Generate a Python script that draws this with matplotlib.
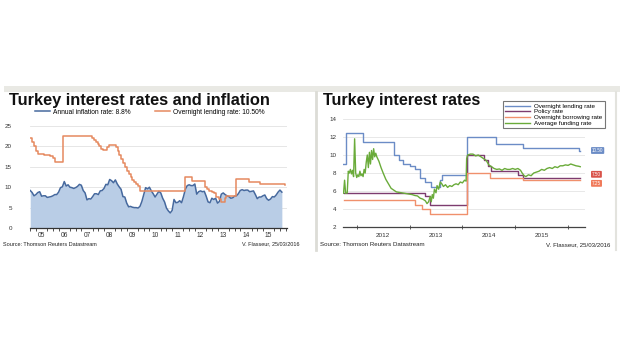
import numpy as np
import pandas as pd
import matplotlib
matplotlib.use("Agg")
import matplotlib.pyplot as plt
from matplotlib.lines import Line2D
from matplotlib.patches import Rectangle

plt.rcParams['font.family'] = ['Liberation Sans', 'DejaVu Sans']

# ---- data: annual inflation, monthly Jan 2005 - Feb 2016 ----
inflation = [
    9.2, 8.7, 7.9, 8.2, 8.7, 8.9, 7.8, 7.9, 7.9, 7.5, 7.6, 7.7,
    7.9, 8.2, 8.2, 8.8, 9.9, 10.1, 11.4, 10.3, 10.6, 10.0, 9.9, 9.7,
    9.9, 10.2, 10.7, 10.5, 9.2, 8.6, 6.9, 7.2, 7.1, 7.7, 8.4, 8.4,
    8.2, 9.1, 9.2, 9.7, 10.7, 10.6, 11.9, 11.6, 11.1, 11.8, 10.8, 10.1,
    9.5, 7.7, 7.6, 6.1, 5.2, 5.3, 5.1, 5.0, 5.0, 4.9, 5.3, 6.5,
    8.2, 9.9, 9.6, 10.0, 9.1, 8.4, 7.6, 8.3, 9.0, 8.6, 7.3, 6.4,
    4.9, 4.2, 3.7, 4.3, 7.0, 6.2, 6.3, 6.7, 6.2, 7.7, 9.5, 10.4,
    10.6, 10.4, 10.4, 10.8, 8.3, 8.9, 9.1, 8.9, 9.0, 7.8, 6.4, 6.2,
    7.3, 7.0, 7.3, 6.1, 6.5, 8.3, 8.6, 8.2, 7.9, 7.7, 7.3, 7.4,
    7.8, 7.9, 8.4, 9.2, 9.4, 9.2, 9.3, 9.3, 8.9, 9.0, 9.1, 8.2,
    7.2, 7.6, 7.6, 7.9, 8.1, 7.2, 6.8, 7.1, 7.7, 7.6, 8.1, 8.8,
    9.3, 8.8,
]
months = pd.date_range("2005-01-01", periods=len(inflation), freq="MS")
infl_x = np.array([d.year + (d.month - 1) / 12 for d in months])

# overnight lending rate (step changes, decimal year)
lend_t = [2005.00, 2005.08, 2005.17, 2005.25, 2005.33, 2005.6, 2005.85, 2006.0, 2006.08,
          2006.45, 2007.72, 2007.8, 2007.88, 2007.97, 2008.05, 2008.12, 2008.2,
          2008.38, 2008.45, 2008.78, 2008.88, 2008.93, 2009.0, 2009.08, 2009.17,
          2009.25, 2009.33, 2009.42, 2009.5, 2009.58, 2009.67, 2009.75, 2009.85,
          2011.8, 2012.12, 2012.7, 2012.8, 2012.88, 2013.0, 2013.1, 2013.2,
          2013.3, 2013.4, 2013.57, 2013.62, 2014.08, 2014.64, 2015.14, 2016.2, 2016.23]
lend_v = [22.0, 21.0, 20.0, 19.0, 18.25, 18.0, 17.75, 17.25, 16.25,
          22.5, 22.0, 21.5, 21.0, 20.5, 20.0, 19.5, 19.25,
          19.75, 20.25, 19.75, 19.0, 18.0, 17.0, 16.0, 15.0,
          14.0, 13.25, 12.5, 11.75, 11.25, 10.75, 10.25, 9.0,
          12.5, 11.5, 10.0, 9.5, 9.0, 8.75, 8.5, 7.5,
          7.0, 6.5, 7.25, 7.75, 12.0, 11.25, 10.75, 10.5, 10.5]

# policy rate (one-week repo)
policy_t = [2011.75, 2013.3, 2013.38, 2014.08, 2014.4, 2014.48, 2014.55, 2015.05, 2015.14, 2016.23]
policy_v = [5.75, 5.5, 4.5, 10.0, 9.5, 8.75, 8.25, 7.75, 7.5, 7.5]

# overnight borrowing rate
borrow_t = [2011.75, 2013.1, 2013.23, 2013.39, 2014.08, 2014.52, 2015.14, 2016.23]
borrow_v = [5.0, 4.5, 4.0, 3.5, 8.0, 7.5, 7.25, 7.25]

# average funding rate
fund_t = [2011.75, 2011.77, 2011.79, 2011.82, 2011.84, 2011.86, 2011.88, 2011.9, 2011.92,
          2011.94, 2011.96, 2011.98, 2012.0, 2012.02, 2012.04, 2012.06, 2012.08, 2012.1,
          2012.12, 2012.14, 2012.16, 2012.18, 2012.2, 2012.22, 2012.24, 2012.26, 2012.28,
          2012.3, 2012.32, 2012.34, 2012.36, 2012.38, 2012.42, 2012.46, 2012.5, 2012.55,
          2012.6, 2012.65, 2012.7, 2012.75, 2012.8, 2012.85, 2012.9, 2012.95, 2013.0,
          2013.05, 2013.1, 2013.15, 2013.2, 2013.25, 2013.3, 2013.33, 2013.36, 2013.39,
          2013.41, 2013.43, 2013.45, 2013.47, 2013.5, 2013.52, 2013.55, 2013.58, 2013.61,
          2013.64, 2013.68, 2013.72, 2013.76, 2013.8, 2013.84, 2013.88, 2013.92, 2013.96,
          2014.0, 2014.04, 2014.07, 2014.08, 2014.1, 2014.15, 2014.2, 2014.25, 2014.3,
          2014.35, 2014.4, 2014.45, 2014.5, 2014.55, 2014.6, 2014.65, 2014.7, 2014.75,
          2014.8, 2014.85, 2014.9, 2014.95, 2015.0, 2015.05, 2015.1, 2015.13, 2015.17,
          2015.2, 2015.25, 2015.3, 2015.35, 2015.4, 2015.45, 2015.5, 2015.55, 2015.6,
          2015.65, 2015.7, 2015.75, 2015.8, 2015.85, 2015.9, 2015.95, 2016.0, 2016.05,
          2016.1, 2016.15, 2016.2, 2016.23]
fund_v = [5.75, 7.2, 5.75, 5.8, 8.2, 8.0, 8.4, 7.9, 8.3,
          7.6, 11.8, 8.0, 7.5, 7.8, 7.6, 8.2, 7.7, 7.9,
          7.6, 8.4, 8.0, 9.2, 10.0, 8.6, 10.3, 9.0, 10.5,
          9.5, 10.7, 9.8, 10.2, 9.8, 9.3, 8.6, 8.0, 7.3,
          6.8, 6.3, 6.1, 5.9, 5.85, 5.8, 5.75, 5.7, 5.65,
          5.6, 5.5, 5.45, 5.2, 5.1, 4.9, 4.6, 4.8, 5.4,
          4.8, 5.6, 5.2, 6.2, 5.8, 6.6, 6.2, 7.0, 6.8,
          6.5, 6.7, 6.4, 6.6, 6.5, 6.7, 6.8, 6.7, 7.0,
          6.9, 7.2, 7.1, 9.6, 10.0, 10.1, 10.1, 9.9, 10.0,
          9.8, 9.6, 9.4, 8.9, 8.7, 8.5, 8.4, 8.45, 8.3,
          8.5, 8.4, 8.4, 8.5, 8.4, 8.5, 8.3, 8.0, 7.7,
          7.6, 7.8, 7.7, 8.0, 8.1, 8.2, 8.4, 8.3, 8.5,
          8.6, 8.5, 8.7, 8.6, 8.8, 8.8, 8.9, 8.85, 9.0,
          8.9, 8.8, 8.75, 8.7]

left_years = ["05", "06", "07", "08", "09", "10", "11", "12", "13", "14", "15"]
right_years = ["2012", "2013", "2014", "2015"]

# colours
c_fill = "#b9cde6"
c_infl = "#46699e"
c_lend_l = "#e5895f"
c_blue = "#6b8cc6"
c_policy = "#7d3c6f"
c_borrow = "#f0906c"
c_green = "#6aab3a"

W, H = 620, 354
fig = plt.figure(figsize=(W / 100, H / 100), dpi=100)
fig.patch.set_facecolor("white")

# panel decoration: top band and dividers
fig.patches.append(Rectangle((4 / W, 1 - 92 / H), 616 / W, 6 / H, transform=fig.transFigure,
                             facecolor="#e9e9e4", edgecolor="none"))
fig.lines.append(Line2D([316 / W, 316 / W], [1 - 92 / H, 1 - 250 / H], transform=fig.transFigure,
                        color="#dcdcd6", lw=2))
fig.lines.append(Line2D([616 / W, 616 / W], [1 - 92 / H, 1 - 250 / H], transform=fig.transFigure,
                        color="#e3e3de", lw=1.5))

# ---------------- left chart ----------------
ax1 = fig.add_axes([30 / W, 1 - 228 / H, 257 / W, 106 / H])
ax1.fill_between(infl_x, inflation, 0, color=c_fill, lw=0)
ax1.plot(infl_x, inflation, color=c_infl, lw=1.1, label="Annual inflation rate: 8.8%")
ax1.step(lend_t, lend_v, where="post", color=c_lend_l, lw=1.1, label="Overnight lending rate: 10.50%")
ax1.set_xlim(2004.99, 2016.31)
ax1.set_ylim(0, 26)
ax1.set_yticks([0, 5, 10, 15, 20, 25])
ax1.yaxis.grid(True, color="#e2e2e2", lw=0.6)
ax1.set_axisbelow(True)
for s in ["top", "right", "left"]:
    ax1.spines[s].set_visible(False)
ax1.spines["bottom"].set_color("#333333")
ax1.spines["bottom"].set_linewidth(0.9)
ax1.tick_params(axis="y", length=0, labelsize=4.5, pad=13, colors="#333333")
ax1.set_xticks([2005.5 + i for i in range(len(left_years))])
ax1.set_xticklabels(left_years)
ax1.set_xticks(np.arange(2005, 2016.3, 0.25), minor=True)
ax1.tick_params(axis="x", which="major", length=0, labelsize=4.8, pad=3, colors="#333333")
ax1.tick_params(axis="x", which="minor", length=2, width=0.6, direction="out", color="#333333")
ax1.legend(loc="center left", bbox_to_anchor=(32 / W, 1 - 112 / H), bbox_transform=fig.transFigure,
           ncol=2, frameon=False, fontsize=4.8, handlelength=2.2, handletextpad=0.5,
           columnspacing=3.6, borderpad=0)

fig.text(9 / W, 1 - 100 / H, "Turkey interest rates and inflation", fontsize=11.8,
         fontweight="bold", va="center", ha="left", color="#111111")
fig.text(3 / W, 1 - 244 / H, "Source: Thomson Reuters Datastream", fontsize=4, va="center", color="#222222")
fig.text(300 / W, 1 - 244 / H, "V. Flasseur, 25/03/2016", fontsize=4, va="center", ha="right", color="#222222")

# ---------------- right chart ----------------
ax2 = fig.add_axes([343 / W, 1 - 227 / H, 242 / W, 112.5 / H])
ax2.step(lend_t, lend_v, where="post", color=c_blue, lw=1.0, label="Overnight lending rate")
ax2.step(policy_t, policy_v, where="post", color=c_policy, lw=1.0, label="Policy rate")
ax2.step(borrow_t, borrow_v, where="post", color=c_borrow, lw=1.0, label="Overnight borrowing rate")
ax2.plot(fund_t, fund_v, color=c_green, lw=1.0, label="Average funding rate")
ax2.set_xlim(2011.74, 2016.32)
ax2.set_ylim(2, 14.5)
ax2.set_yticks([2, 4, 6, 8, 10, 12, 14])
ax2.yaxis.grid(True, color="#e4e4e4", lw=0.6)
ax2.set_axisbelow(True)
for s in ["top", "right", "left"]:
    ax2.spines[s].set_visible(False)
ax2.spines["bottom"].set_color("#444444")
ax2.spines["bottom"].set_linewidth(0.9)
ax2.tick_params(axis="y", length=0, labelsize=4.5, pad=5, colors="#333333")
ax2.set_xticks([2012.5 + i for i in range(len(right_years))])
ax2.set_xticklabels(right_years)
ax2.set_xticks(np.arange(2012, 2016.1, 1), minor=True)
ax2.tick_params(axis="x", which="major", length=0, labelsize=4.6, pad=4, colors="#333333")
ax2.tick_params(axis="x", which="minor", length=3, width=0.6, direction="inout", color="#444444")
leg = ax2.legend(loc="upper left", bbox_to_anchor=(500 / W, 1 - 98 / H), bbox_transform=fig.transFigure,
                 fontsize=4.5, frameon=True, fancybox=False, edgecolor="#555555",
                 handlelength=4, handletextpad=0.6, labelspacing=0.05, borderpad=0.35)
leg.get_frame().set_linewidth(0.8)

# last-value tags on the right
for val, txt, col, dy in [(lend_v[-1], "10.50", c_blue, 0), (policy_v[-1], "7.50", "#d9534a", 2.3),
                          (borrow_v[-1], "7.25", "#f07a5a", -2.6)]:
    ax2.annotate(txt, xy=(1.0, val), xycoords=("axes fraction", "data"), xytext=(5, dy),
                 textcoords="offset points", fontsize=3.3, color="white", va="center", ha="left",
                 bbox=dict(boxstyle="round,pad=0.2", fc=col, ec="none"))

fig.text(323 / W, 1 - 100 / H, "Turkey interest rates", fontsize=11.6, fontweight="bold",
         va="center", ha="left", color="#111111")
fig.text(320 / W, 1 - 245 / H, "Source: Thomson Reuters Datastream", fontsize=4.4, va="center", color="#222222")
fig.text(610 / W, 1 - 245 / H, "V. Flasseur, 25/03/2016", fontsize=4.4, va="center", ha="right", color="#222222")

fig.savefig("out.png", dpi=100)
